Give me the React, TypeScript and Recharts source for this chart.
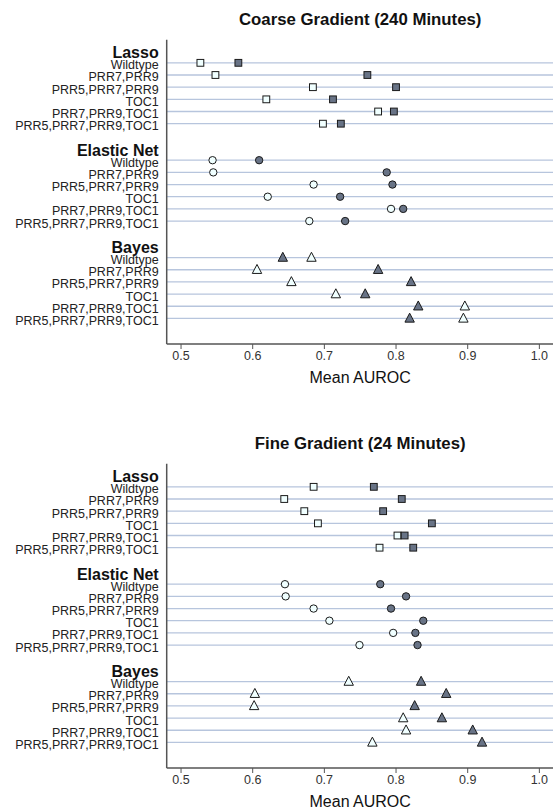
import React from 'react';
import { ScatterChart, Scatter, XAxis, YAxis, ReferenceLine, Customized } from 'recharts';

const strains = ['Wildtype', 'PRR7,PRR9', 'PRR5,PRR7,PRR9', 'TOC1', 'PRR7,PRR9,TOC1', 'PRR5,PRR7,PRR9,TOC1'];
const methods = ['Lasso', 'Elastic Net', 'Bayes'];
const xTicks = [0.5, 0.6, 0.7, 0.8, 0.9, 1.0];

// Coarse gradient (240 minutes)
const coarseLassoOpen = [0.527, 0.548, 0.684, 0.619, 0.775, 0.698];
const coarseLassoFilled = [0.58, 0.76, 0.80, 0.712, 0.797, 0.723];
const coarseElasticOpen = [0.544, 0.545, 0.685, 0.621, 0.793, 0.679];
const coarseElasticFilled = [0.609, 0.787, 0.795, 0.722, 0.81, 0.729];
const coarseBayesOpen = [0.682, 0.606, 0.654, 0.716, 0.896, 0.894];
const coarseBayesFilled = [0.642, 0.775, 0.821, 0.757, 0.831, 0.819];

// Fine gradient (24 minutes)
const fineLassoOpen = [0.685, 0.644, 0.672, 0.691, 0.802, 0.777];
const fineLassoFilled = [0.769, 0.808, 0.782, 0.85, 0.812, 0.824];
const fineElasticOpen = [0.645, 0.646, 0.685, 0.707, 0.796, 0.749];
const fineElasticFilled = [0.778, 0.814, 0.793, 0.838, 0.827, 0.83];
const fineBayesOpen = [0.734, 0.603, 0.602, 0.81, 0.814, 0.767];
const fineBayesFilled = [0.835, 0.87, 0.826, 0.864, 0.907, 0.92];

const FONT = '"Liberation Sans", Arial, Helvetica, sans-serif';
const OPEN = '#f0ffff';
const FILLED = '#687386';
const GRID = '#b7c5dd';
const AXIS = '#555555';
const shapes = ['square', 'circle', 'triangle'];

const rowOf = (m: number, s: number) => m * 8 + s;

const yTicks: number[] = [];
methods.forEach((_, m) => {
  yTicks.push(rowOf(m, -1));
  strains.forEach((_, s) => yTicks.push(rowOf(m, s)));
});

function RowTick(props: any) {
  const { x, y, payload } = props;
  const idx = payload.value + 1;
  const m = Math.floor(idx / 8);
  const s = (idx % 8) - 1;
  if (s === -1) {
    return (
      <text x={x} y={y + 7.8} textAnchor="end" fontFamily={FONT} fontSize={16} fontWeight="bold" fill="#111">
        {methods[m]}
      </text>
    );
  }
  return (
    <text x={x} y={y + 6.5} textAnchor="end" fontFamily={FONT} fontSize={12.5} fill="#222">
      {strains[s]}
    </text>
  );
}

function Marker({ cx, cy, kind, filled }: any) {
  const fill = filled ? FILLED : OPEN;
  const common = { fill, stroke: '#1a1a1a', strokeWidth: 1 };
  if (kind === 'square') {
    return <rect x={cx - 3.4} y={cy - 3.4} width={6.8} height={6.8} {...common} />;
  }
  if (kind === 'circle') {
    return <circle cx={cx} cy={cy} r={3.7} {...common} />;
  }
  return <polygon points={`${cx - 4.7},${cy + 3.7} ${cx + 4.7},${cy + 3.7} ${cx},${cy - 5.3}`} {...common} />;
}

interface PanelProps {
  title: string;
  open: number[][];
  filled: number[][];
}

function Panel({ title, open, filled }: PanelProps) {
  const series: { key: string; kind: string; filled: boolean; data: { x: number; y: number }[] }[] = [];
  methods.forEach((name, m) => {
    series.push({ key: name + '-open', kind: shapes[m], filled: false, data: open[m].map((v, s) => ({ x: v, y: rowOf(m, s) })) });
    series.push({ key: name + '-filled', kind: shapes[m], filled: true, data: filled[m].map((v, s) => ({ x: v, y: rowOf(m, s) })) });
  });

  return (
    <ScatterChart width={560} height={424} margin={{ top: 39.7, right: 6.3, bottom: 30, left: 0 }}>
      <XAxis
        xAxisId="top"
        orientation="top"
        type="number"
        domain={[0.48, 1.02]}
        allowDataOverflow
        tick={false}
        tickLine={false}
        height={0}
        axisLine={{ stroke: AXIS, strokeWidth: 1.5 }}
      />
      <XAxis
        dataKey="x"
        type="number"
        domain={[0.48, 1.02]}
        allowDataOverflow
        ticks={xTicks}
        tickFormatter={(v: number) => v.toFixed(1)}
        tickSize={5}
        tickMargin={2}
        height={50}
        axisLine={{ stroke: AXIS, strokeWidth: 1.5 }}
        tickLine={{ stroke: AXIS }}
        tick={{ fontSize: 12.5, fill: '#333', fontFamily: FONT }}
      />
      <YAxis
        dataKey="y"
        type="number"
        domain={[-1.9, 23.1]}
        allowDataOverflow
        reversed
        ticks={yTicks}
        interval={0}
        width={166.7}
        tickSize={0}
        tickMargin={8}
        tickLine={false}
        axisLine={{ stroke: AXIS, strokeWidth: 1.5 }}
        tick={<RowTick />}
      />
      {methods.map((_, m) =>
        strains.map((_, s) => (
          <ReferenceLine key={`g-${m}-${s}`} y={rowOf(m, s)} stroke={GRID} strokeWidth={1.3} />
        ))
      )}
      {series.map((sr) => (
        <Scatter
          key={sr.key}
          data={sr.data}
          isAnimationActive={false}
          shape={(p: any) => <Marker cx={p.cx} cy={p.cy} kind={sr.kind} filled={sr.filled} />}
        />
      ))}
      <Customized
        component={() => (
          <g>
            <text x={360.2} y={24.5} textAnchor="middle" fontFamily={FONT} fontSize={16.8} fontWeight="bold" fill="#111">
              {title}
            </text>
            <text x={360.2} y={382.5} textAnchor="middle" fontFamily={FONT} fontSize={16} fill="#111">
              Mean AUROC
            </text>
          </g>
        )}
      />
    </ScatterChart>
  );
}

export default function App() {
  return (
    <div style={{ position: 'absolute', left: 0, top: 0, width: 553, height: 809, overflow: 'hidden', background: '#fff' }}>
      <Panel
        title="Coarse Gradient (240 Minutes)"
        open={[coarseLassoOpen, coarseElasticOpen, coarseBayesOpen]}
        filled={[coarseLassoFilled, coarseElasticFilled, coarseBayesFilled]}
      />
      <Panel
        title="Fine Gradient (24 Minutes)"
        open={[fineLassoOpen, fineElasticOpen, fineBayesOpen]}
        filled={[fineLassoFilled, fineElasticFilled, fineBayesFilled]}
      />
    </div>
  );
}
